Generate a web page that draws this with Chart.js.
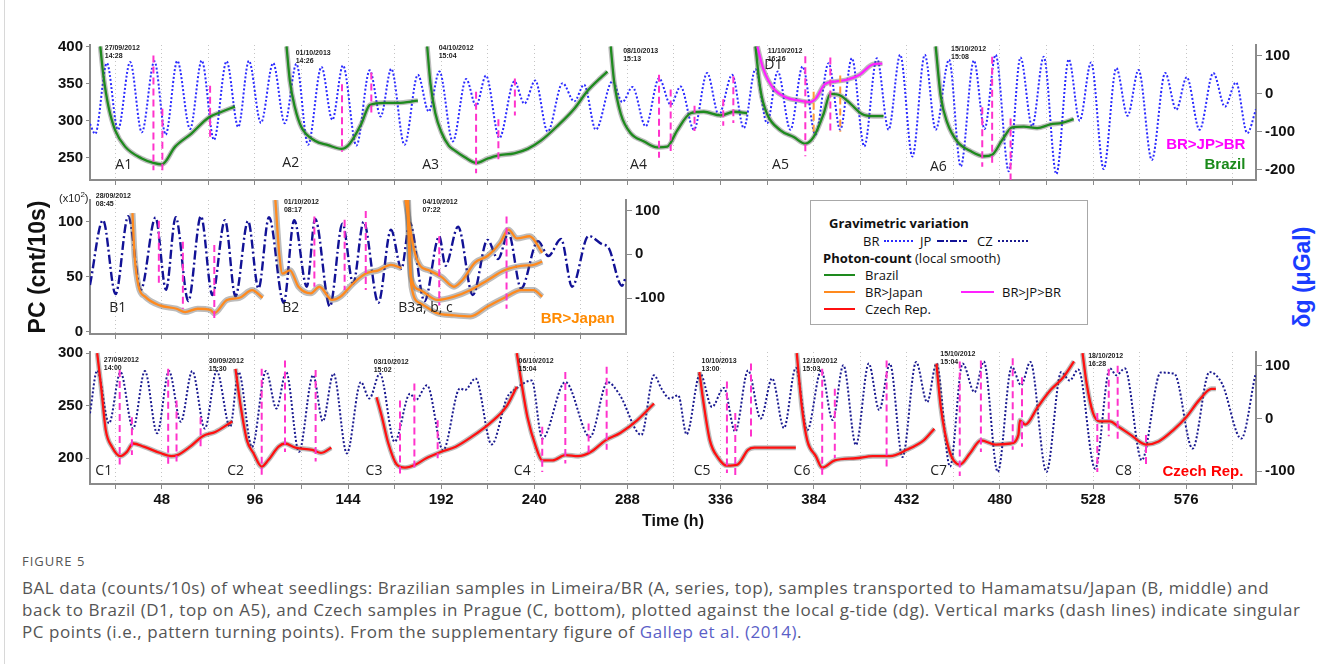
<!DOCTYPE html>
<html>
<head>
<meta charset="utf-8">
<title>Figure 5</title>
<script src="https://cdn.jsdelivr.net/npm/chart.js@4.4.1/dist/chart.umd.min.js"></script>
<style>
  html, body { margin: 0; background: #fff; }
  #page { position: relative; width: 1326px; height: 664px; overflow: hidden; font-family: 'Open Sans', sans-serif; }
  #page canvas { position: absolute; left: 0; }
  .edge { position: absolute; left: 4px; top: 0; width: 1px; height: 664px; background: #d8d8d8; }
  .abs { position: absolute; white-space: nowrap; }
  #legend { position: absolute; left: 810px; top: 200px; width: 278px; height: 125px; border: 1px solid #a8a8a8; box-sizing: border-box; background: #fff; font-size: 13px; color: #111; }
  #legend .t { position: absolute; white-space: nowrap; line-height: 16px; transform: translateY(-50%); }
  #legend .ln { position: absolute; height: 0; border-top: 2px solid; transform: translateY(-50%); }
  #legend .dd { position: absolute; height: 2px; transform: translateY(-50%);
    background: repeating-linear-gradient(90deg, #121296 0 7px, transparent 7px 9px, #121296 9px 11px, transparent 11px 13px); }
  #dg { left: 1302px; top: 277px; transform: translate(-50%, -50%) rotate(-90deg); font: bold 23px 'Liberation Sans', Arial, sans-serif; color: #1a3cff; }
  #cap .fig { position: absolute; left: 22px; top: 552px; font-size: 13px; letter-spacing: 1px; color: #555; }
  #cap .txt { position: absolute; left: 22px; top: 577px; font-size: 17px; letter-spacing: 0.55px; line-height: 22px; color: #555; white-space: nowrap; }
  #cap a { color: #5b5fc7; text-decoration: none; }
</style>
</head>
<body>
<div id="page">
  <div class="edge"></div>
  <canvas id="topChart" width="1326" height="159" style="top:33px"></canvas>
  <canvas id="midChart" width="680" height="158" style="top:188px"></canvas>
  <canvas id="botChart" width="1326" height="192" style="top:340px"></canvas>

  <div class="abs" style="left:59px;top:190px;font:11px 'Liberation Sans',Arial,sans-serif;color:#222">(x10<sup style="font-size:8px">2</sup>)</div>
  <div class="abs" id="dg">δg (μGal)</div>

  <div id="legend">
    <div class="t" style="left:18px;top:22px;font-weight:bold">Gravimetric variation</div>
    <div class="t" style="left:52px;top:40px">BR</div>
    <div class="ln" style="left:73px;top:40px;width:29px;border-top:2px dotted #2b2bff"></div>
    <div class="t" style="left:109px;top:40px">JP</div>
    <div class="dd" style="left:126px;top:40px;width:30px"></div>
    <div class="t" style="left:166px;top:40px">CZ</div>
    <div class="ln" style="left:187px;top:40px;width:30px;border-top:2px dotted #1a1a90"></div>
    <div class="t" style="left:12px;top:57px"><b>Photon-count</b> (local smooth)</div>
    <div class="ln" style="left:13px;top:74px;width:31px;border-color:#1e8a1e"></div>
    <div class="t" style="left:54px;top:74px">Brazil</div>
    <div class="ln" style="left:13px;top:91px;width:31px;border-color:#ff8a1e"></div>
    <div class="t" style="left:54px;top:91px">BR&gt;Japan</div>
    <div class="ln" style="left:150px;top:91px;width:33px;border-color:#ff22ff"></div>
    <div class="t" style="left:191px;top:91px">BR&gt;JP&gt;BR</div>
    <div class="ln" style="left:13px;top:108px;width:31px;border-color:#ff1010"></div>
    <div class="t" style="left:54px;top:108px">Czech Rep.</div>
  </div>

  <div id="cap">
    <div class="fig">FIGURE 5</div>
    <div class="txt">BAL data (counts/10s) of wheat seedlings: Brazilian samples in Limeira/BR (A, series, top), samples transported to Hamamatsu/Japan (B, middle) and<br>back to Brazil (D1, top on A5), and Czech samples in Prague (C, bottom), plotted against the local g-tide (dg). Vertical marks (dash lines) indicate singular<br>PC points (i.e., pattern turning points). From the supplementary figure of <a>Gallep et al. (2014)</a>.</div>
  </div>
</div>

<script>
// ---- axes ----
const hourTicks = [24, 48, 72, 96, 120, 144, 168, 192, 216, 240, 264, 288, 312, 336, 360, 384, 408, 432, 456, 480, 504, 528, 552, 576, 600];
const timeLabels = [48, 96, 144, 192, 240, 288, 336, 384, 432, 480, 528, 576];
const pcTopTicks = [250, 300, 350, 400];
const dgTopTicks = [-200, -100, 0, 100];
const pcMidTicks = [0, 50, 100];
const dgMidTicks = [-100, 0, 100];
const pcBotTicks = [200, 250, 300];
const dgBotTicks = [-100, 0, 100];

// ---- g-tide, [hour, µGal] ----
const tideBR = [[11,-80],[13.7,-106],[19.7,81],[25.4,-95],[31.7,84],[37.7,-102],[44.2,86],[50,-108],[56,87],[62.6,-93],[68.6,88],[74.9,-122],[81.4,86],[87.4,-88],[92.9,87],[99.1,-77],[105.4,81],[111.4,-78],[117.4,79],[123.4,-135],[130.3,71],[135.9,-69],[141.4,75],[148.3,-137],[155.2,62],[160.8,-60],[166.3,66],[173.1,-135],[180,50],[185.6,-47],[191.1,59],[198,-126],[204.9,39],[210,-32],[215.1,48],[222,-117],[229.7,33],[234.9,-26],[240.5,35],[246.9,-100],[254.6,28],[260.6,-20],[265.7,24],[271.7,-95],[280.3,33],[285.4,-22],[290.6,18],[297.4,-86],[304.3,41],[310.3,-29],[315.4,19],[322.3,-95],[329.1,55],[335.1,-56],[342,50],[348,-91],[354,65],[360,-78],[365.5,59],[372,-95],[378.3,72],[384.9,-108],[391.7,81],[397.7,-95],[403.7,94],[410.1,-139],[416.6,94],[422.6,-95],[428.6,103],[434.9,-166],[441.3,103],[446.9,-95],[453.8,90],[459.8,-192],[466.6,88],[472.1,-93],[477.8,103],[484.6,-205],[490.6,96],[496.6,-86],[502.6,98],[509.1,-212],[515.5,91],[521.1,-71],[527,83],[533.5,-199],[540,68],[545.8,-58],[551.5,63],[558.3,-175],[565.2,55],[570.9,-42],[576.3,44],[582.9,-95],[590,55],[596,-34],[601.7,30],[607.5,-104],[612,-41]];
const tideJP = [[11,-70],[17.7,78],[24.2,-91],[30.7,87],[37.2,-81],[44.8,84],[50.2,-81],[55.2,85],[61.7,-107],[68.2,87],[74.1,-93],[80.6,78],[86,-96],[92.5,76],[97.9,-78],[103.3,85],[110.9,-111],[116.3,78],[122.8,-74],[127.1,81],[134.7,-119],[141.2,70],[146.7,-67],[152.1,74],[159.7,-111],[166.2,56],[171.6,-33],[175.9,72],[183.5,-107],[191.1,41],[194.3,-26],[200.8,63],[208.4,-93],[216,33],[221.4,-11],[226.8,48],[233.3,-78],[242,30],[247.4,-4],[253.9,35],[259.6,-74],[268.1,42],[275,23],[278.4,15],[285.3,-72],[287.4,-50]];
const tideCZ = [[11,10],[14.7,91],[20.8,-9],[26.7,88],[33.2,-19],[39.3,90],[45.6,-28],[51.7,90],[57.8,-6],[63.7,90],[70.2,-19],[76.3,90],[83.2,-16],[87.6,88],[94.5,-54],[101.7,90],[107.1,19],[112.1,88],[118.7,-63],[126,82],[131,-5],[136.5,85],[143.4,-66],[150.6,69],[155,38],[160.4,85],[168,-44],[176,47],[178.9,35],[184.7,63],[193,-60],[201.7,57],[204.3,54],[209.7,76],[218,-49],[226,40],[230,55],[238.7,72],[244.1,-38],[256,69],[268.7,-35],[277.8,69],[284,45],[295.2,-31],[301.7,82],[305.5,57],[309.8,38],[314.2,44],[318.5,-30],[325.5,85],[331.6,22],[337.7,58],[343.6,-25],[350.2,91],[356.7,0],[362.6,76],[368.7,-18],[374.8,96],[380.7,-22],[387.9,91],[393.8,-3],[399.3,101],[405.8,-50],[412.4,104],[417.8,16],[423.3,104],[429.8,-73],[436.8,107],[442.5,31],[447.3,104],[454.3,-91],[460.8,104],[466.9,50],[471.7,108],[478.9,-101],[486.1,98],[490.9,63],[495.7,107],[504,-101],[511.6,88],[516,72],[520.4,93],[529.1,-95],[536.7,95],[540,82],[544.4,95],[553.1,-79],[562.9,87],[569.9,85],[579.3,-57],[588,88],[594.5,66],[604.4,-38],[611.6,82]];

// ---- photon counts (local smooth), [hour, cnt/10s] ----
const A1 = [[16.3,400],[18,359],[20.6,318],[24,287],[29.1,265],[37.7,249],[43.7,243],[48,241],[54.9,265],[63.4,283],[72,304],[78.9,312],[85.7,319]];
const A2 = [[112.3,400],[114,354],[116.6,318],[120,291],[126.9,273],[133.7,267],[140.6,262],[144.9,269],[150.9,296],[155.2,321],[162.9,324],[169.7,324],[180,327]];
const A3 = [[184.8,400],[186.5,350],[189,310],[192,285],[196,266],[198.9,260],[204,251],[210,243],[216,249],[221.1,253],[229.7,256],[236.6,262],[243.4,273],[252,293],[260.6,316],[267.4,340],[274.3,358],[277.7,366]];
const A4 = [[279.4,400],[281.1,354],[284.6,309],[289.7,283],[296.6,272],[303.4,264],[308.6,265],[313.7,287],[320.6,310],[327.4,312],[336,307],[342.9,312],[349.7,310]];
const A5 = [[354,400],[356.6,341],[360,309],[366.9,287],[373.7,278],[379.7,269],[384,278],[389.1,309],[392.6,336],[397.7,334],[402.9,323],[408.9,309],[414.9,306],[420,306]];
const A6 = [[446.9,400],[449.5,333],[452.9,297],[458,272],[464.9,259],[471.8,252],[476,254],[481.2,274],[486.3,291],[492.3,292],[499.2,290],[506,295],[512,297],[518,302]];
const D1 = [[355,400],[358,370],[363.1,344],[370,331],[376.9,327],[382,325],[385.4,331],[389.7,349],[395.7,353],[400.9,355],[407.7,362],[414.6,376],[419.4,377]];

const B1 = [[32.9,108],[34,69],[36.1,41],[39.4,32],[47,24],[55.6,21],[60,18],[66.5,21],[73,20],[75.1,17],[81.6,29],[88.1,31],[94.6,38],[100,31]];
const B2 = [[106.6,120],[108.7,69],[110.2,53],[114.1,56],[118.5,41],[124.9,35],[129.3,41],[135.8,29],[140.2,32],[146.7,44],[153.2,53],[159.7,56],[166.2,61],[171.6,58]];
const B3a = [[173.7,120],[178.1,75],[181.3,60],[185.7,56],[192.2,50],[198.7,41],[203,47],[209.5,63],[216,69],[222.5,81],[226.8,93],[231.2,85],[237.7,87],[244.2,72]];
const B3b = [[174.5,120],[176.5,50],[181.3,38],[190,29],[198.7,32],[207.3,38],[216,47],[224.7,56],[233.3,60],[239.8,61],[244.2,64]];
const B3c = [[175,120],[176.8,41],[181.3,26],[190,17],[198.7,15],[207.3,14],[216,23],[224.7,31],[233.3,38],[239.8,38],[244.2,32]];

const C1 = [[14.7,300],[16.9,265],[19.1,227],[22.3,211],[26.7,202],[30,206],[33.2,214],[38.7,211],[47.3,205],[52.8,202],[56,203],[62.6,211],[69.1,221],[75.6,225],[84.3,235]];
const C2 = [[86,285],[88.7,249],[91.9,217],[95.2,205],[99.5,192],[102.8,198],[108.2,211],[111.5,214],[116.9,210],[125.6,208],[130,205],[135.4,210]];
const C3 = [[158.7,258],[161.5,239],[164.8,214],[169.1,194],[173.4,191],[178.9,194],[184.3,200],[191.9,206],[199.5,211],[208.2,221],[216.9,233],[225.6,249],[231,268]];
const C4 = [[231,300],[233.2,274],[236.5,239],[240.8,211],[244.1,198],[249.5,198],[256,203],[262.6,202],[269.1,206],[276.7,217],[284.3,224],[293,236],[301.7,252]];
const C5 = [[325.1,282],[327.3,252],[330.5,217],[334.9,200],[339.3,193],[344.7,194],[350.2,208],[353.5,210],[362.2,210],[370.9,210],[374.8,210]];
const C6 = [[375.3,300],[377.9,249],[380.7,217],[385.1,202],[388.4,191],[394.9,198],[405.8,200],[414.5,202],[423.3,202],[432,208],[440.7,217],[446.2,228]];
const C7 = [[447.3,290],[449.5,249],[453.8,208],[459.3,194],[464.7,205],[470.2,217],[477.8,213],[485.5,214],[489.5,222],[490.3,236],[493.1,232],[499.6,249],[506.2,265],[512.7,277],[518.2,292]];
const C8 = [[522.6,300],[524.7,271],[528,243],[531.3,235],[536.7,235],[541.1,230],[547.6,222],[555.3,213],[561.8,216],[569.5,227],[576,239],[582.6,255],[589.1,266],[591.3,266]];

// ---- singular PC points (dash marks), [hour, from, to] ----
const marksTop = [[43.7,388,233],[48.3,316,233],[72.9,347,278],[140.9,349,258],[156,365,307],[210,339,229],[221.5,302,248],[230,357,307],[304.3,362,250],[310.3,342,259],[322.6,320,286],[337.4,329,293],[342.6,360,297],[379.7,387,252],[392.6,385,286],[470.9,318,238],[476,386,242],[485.5,303,220]];
const marksTopJP = [[384,339,283],[397.7,361,285]];
const marksMid = [[46.5,101,41],[58.9,82,21],[75.1,79,9],[126.7,105,41],[142.3,102,38],[153.2,110,38],[191.1,87,24],[225.8,105,21]];
const marksBot = [[26.3,284,194],[32.6,239,203],[51.3,285,194],[55.6,255,197],[68,239,208],[99.5,285,183],[111.5,293,206],[127.3,284,197],[170.8,255,184],[178.2,271,189],[190.2,236,200],[244.1,230,187],[256,282,195],[268,233,202],[277.3,287,208],[339.3,273,186],[343.6,243,183],[351.7,290,217],[388.4,285,184],[394.9,266,200],[421.6,293,191],[459.3,292,183],[470.2,293,206],[486.6,295,208],[491.4,277,211],[530.2,243,187],[536.1,285,221],[540.7,288,217],[555.3,222,194]];

// ---- text labels ----
const seriesTop = [['A1',28.4,240],['A2',114.5,243],['A3',186.6,240],['A4',293.7,240],['A5',366.9,240],['A6',448.3,237],['D1',363.2,375]];
const seriesMid = [['B1',25.3,22],['B2',114.5,22],['B3a, b, c',184,22]];
const seriesBot = [['C1',18.1,188],['C2',86.1,188],['C3',157.4,188],['C4',233.8,188],['C5',326.5,188],['C6',378,188],['C7',448.4,188],['C8',543.7,188]];
const datesTop = [['27/09/2012','14:28',18.6,402],['01/10/2013','14:26',117,396],['04/10/2012','15:04',190.7,402],['08/10/2013','15:13',285.8,398],['11/10/2012','16:16',360.3,399],['15/10/2012','15:08',454.8,401]];
const datesMid = [['28/09/2012','08:45',14,127],['01/10/2012','08:17',111,121],['04/10/2012','07:22',182.5,121]];
const datesBot = [['27/09/2012','14:00',18.1,297],['30/09/2012','15:30',72.2,296],['03/10/2012','15:02',157.2,295],['06/10/2012','15:04',231.9,296],['10/10/2013','13:00',326.2,296],['12/10/2012','15:03',378.2,296],['15/10/2012','15:04',449.3,302],['18/10/2012','16:28',525.5,300]];

// ---- helpers ----
const tickFont = { family: "'Liberation Sans', Arial, sans-serif", size: 15, weight: 'bold', lineHeight: 1 };
const AXIS = '#8a8a8a';
const pts = a => a.map(([x, y]) => ({ x, y }));
const markPts = m => m.flatMap(([h, a, b]) => [{ x: h, y: a }, { x: h, y: b }, { x: h, y: null }]);

function pc(data, color, noise) {
  return [
    { data: pts(data), borderColor: color, borderWidth: 2.3, cubicInterpolationMode: 'monotone', order: 1 },
    { data: pts(data), borderColor: 'rgba(95,95,95,0.42)', borderWidth: noise, cubicInterpolationMode: 'monotone', order: 2 }
  ];
}
function tide(data, color, dash, width) {
  return { data: pts(data), yAxisID: 'y2', borderColor: color, borderWidth: width, borderDash: dash, cubicInterpolationMode: 'monotone', order: 3 };
}
function marks(m, color) {
  return { data: markPts(m), borderColor: color, borderWidth: 2, borderDash: [7, 4], tension: 0, order: 0 };
}
function notes(list, axis, font, color, align) {
  return list.map(([text, x, y]) => ({ text, x, y, axis, font, color, align }));
}
function dates(list, axis) {
  return list.map(([a, b, x, y]) => ({ lines: [a, b], x, y, axis, font: "bold 7px 'Liberation Sans', Arial", color: '#222', align: 'left', base: 'top' }));
}

const notesPlugin = {
  id: 'notes',
  afterDatasetsDraw(chart, args, opts) {
    const ctx = chart.ctx;
    (opts.items || []).forEach(n => {
      const px = chart.scales.x.getPixelForValue(n.x);
      const py = chart.scales[n.axis || 'y'].getPixelForValue(n.y);
      ctx.save();
      ctx.font = n.font;
      ctx.fillStyle = n.color || '#222';
      ctx.textAlign = n.align || 'center';
      ctx.textBaseline = n.base || 'middle';
      (n.lines || [n.text]).forEach((t, i) => ctx.fillText(t, px, py + i * 8));
      ctx.restore();
    });
  }
};

function xScale(max, height, labels, title) {
  return {
    type: 'linear', min: 11, max,
    afterBuildTicks: s => { s.ticks = hourTicks.filter(v => v <= max).map(v => ({ value: v })); },
    afterFit: s => { s.height = height; },
    grid: { color: '#c4c4c4', lineWidth: 1, tickLength: 5, tickColor: AXIS, tickWidth: 1 },
    border: { color: AXIS, width: 2, dash: [1, 3] },
    ticks: { display: labels, autoSkip: false, maxRotation: 0, padding: 3, font: tickFont, color: '#111',
      callback: v => timeLabels.includes(v) ? v : '' },
    title: title ? { display: true, text: title, font: { family: "'Liberation Sans', Arial", size: 16, weight: 'bold' }, color: '#111', padding: { top: 0, bottom: 1 } } : { display: false }
  };
}
function yScale(position, min, max, ticks, width, title) {
  return {
    position, min, max,
    afterBuildTicks: s => { s.ticks = ticks.map(v => ({ value: v })); },
    afterFit: s => { s.width = width; },
    grid: { drawOnChartArea: false, tickLength: position === 'right' ? 6 : 4, tickColor: AXIS },
    border: { color: AXIS, width: 2 },
    ticks: { font: tickFont, color: '#111', padding: 3 },
    title: title ? { display: true, text: title, font: { family: "'Liberation Sans', Arial", size: 23, weight: 'bold' }, color: '#111', padding: { top: 25, bottom: 0 } } : { display: false }
  };
}
function makeChart(id, datasets, scales, items) {
  return new Chart(document.getElementById(id), {
    type: 'line',
    data: { datasets },
    options: {
      responsive: false, animation: false, events: [],
      layout: { padding: { top: 12, left: 0, right: 0, bottom: 0 } },
      elements: { point: { radius: 0 }, line: { borderCapStyle: 'butt', fill: false } },
      plugins: { legend: { display: false }, tooltip: { enabled: false }, notes: { items } },
      scales
    },
    plugins: [notesPlugin]
  });
}

const labelFont = "14px 'Open Sans', sans-serif";
const tagFont = "bold 15px 'Liberation Sans', Arial, sans-serif";
const GREEN = '#1e8a1e', ORANGE = '#ff8a1e', RED = '#ff1010', MAG = '#ff22ff', PINK = '#ff33cc';

// top panel: Brazil
makeChart('topChart', [
  marks(marksTop, PINK), marks(marksTopJP, '#ff9a3c'),
  ...pc(D1, MAG, 5),
  ...[A1, A2, A3, A4, A5, A6].flatMap(a => pc(a, GREEN, 5)),
  tide(tideBR, '#2b2bff', [2, 2], 2)
], {
  x: xScale(612, 12, false),
  y: yScale('left', 220, 402, pcTopTicks, 90),
  y2: yScale('right', -228, 129, dgTopTicks, 70)
}, [
  ...notes(seriesTop, 'y', labelFont, '#222'),
  ...dates(datesTop, 'y'),
  { text: 'BR>JP>BR', x: 606.5, y: 267, font: tagFont, color: '#ff00ff', align: 'right' },
  { text: 'Brazil', x: 606.5, y: 241, font: tagFont, color: '#1a8a1a', align: 'right' }
]);

// middle panel: BR > Japan
makeChart('midChart', [
  marks(marksMid, PINK),
  ...[B1, B2, B3a, B3b, B3c].flatMap(b => pc(b, ORANGE, 6)),
  tide(tideJP, '#121296', [9, 3, 2, 3], 2.4)
], {
  x: xScale(287.4, 12, false),
  y: yScale('left', -2, 120, pcMidTicks, 90, 'PC (cnt/10s)'),
  y2: yScale('right', -182, 124, dgMidTicks, 54)
}, [
  ...notes(seriesMid, 'y', labelFont, '#222'),
  ...dates(datesMid, 'y'),
  { text: 'BR>Japan', x: 281.5, y: 12, font: tagFont, color: '#ff8a00', align: 'right' }
]);

// bottom panel: Czech Republic
makeChart('botChart', [
  marks(marksBot, PINK),
  ...[C1, C2, C3, C4, C5, C6, C7, C8].flatMap(c => pc(c, RED, 5)),
  tide(tideCZ, '#1a1a90', [2, 2], 2)
], {
  x: xScale(612, 48, true, 'Time (h)'),
  y: yScale('left', 175.5, 301, pcBotTicks, 90),
  y2: yScale('right', -124, 126, dgBotTicks, 70)
}, [
  ...notes(seriesBot, 'y', labelFont, '#222'),
  ...dates(datesBot, 'y'),
  { text: 'Czech Rep.', x: 605.5, y: 187, font: tagFont, color: '#ff0000', align: 'right' }
]);
</script>
</body>
</html>
